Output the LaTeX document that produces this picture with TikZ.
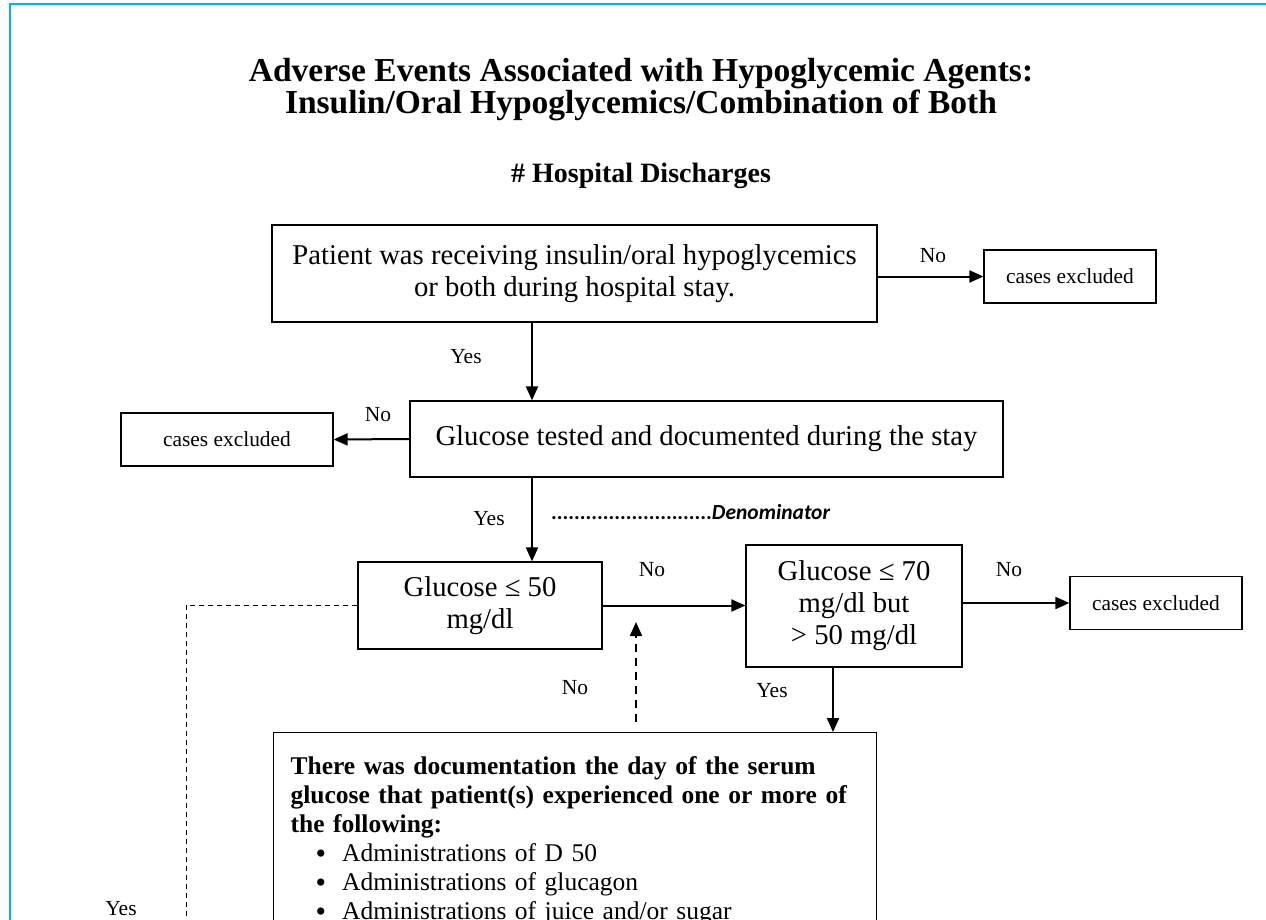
\documentclass[tikz,border=0pt]{standalone}
\usepackage{fontspec}
\setmainfont{Liberation Serif}
\newfontfamily\calibri{Carlito}
\usetikzlibrary{arrows.meta}
\definecolor{frameblue}{RGB}{0,176,240}
\newcommand{\itembul}{\hspace*{25pt}\raisebox{-1.5pt}[0pt][0pt]{\fontsize{30}{29}\selectfont\textbullet}\hspace{16pt}}

\begin{document}
\begin{tikzpicture}[x=1pt,y=-1pt]
	\tikzstyle{box}=[draw=black,line width=1.2pt,inner sep=0pt,align=center,font=\fontsize{28.7}{32}\selectfont]
	\tikzstyle{excl}=[draw=black,line width=1.2pt,minimum width=172pt,minimum height=53pt,inner sep=0pt,font=\fontsize{21.4}{24}\selectfont]
	\tikzstyle{lbl}=[inner sep=0pt,font=\fontsize{21.5}{24}\selectfont]
	\tikzstyle{arr}=[line width=2pt,-{Triangle[length=14pt,width=12pt]}]
	\useasboundingbox (0,0) rectangle (1266,920);
	\clip (0,0) rectangle (1266,920);
	\draw[frameblue,line width=2.5pt] (10,930) -- (10,4) -- (1275,4);
	\node[align=center,font=\bfseries\fontsize{33.5}{32}\selectfont] (t) at (641,90) {Adverse Events Associated with Hypoglycemic Agents:\\Insulin/Oral Hypoglycemics/Combination of Both};
	\node[font=\bfseries\fontsize{28}{32}\selectfont] (s) at (641,176) {\# Hospital Discharges};
	\node[box,minimum width=605pt,minimum height=97pt] (1) at (574.5,273.5) {Patient was receiving insulin/oral hypoglycemics\\or both during hospital stay.};
	\node[excl] (2) at (1070,276.5) {cases excluded};
	\node[box,minimum width=593pt,minimum height=76pt] (3) at (706.5,439) {Glucose tested and documented during the stay};
	\node[excl,minimum width=212pt] (4) at (227,439.5) {cases excluded};
	\node[box,minimum width=244pt,minimum height=87pt] (5) at (480,605.5) {Glucose ≤ 50\\mg/dl};
	\node[box,minimum width=216pt,minimum height=122pt] (6) at (854,606) {Glucose ≤ 70\\mg/dl but\\> 50 mg/dl};
	\node[excl] (7) at (1156,603) {cases excluded};
	\node[draw=black,line width=1.2pt,anchor=north west,text width=569pt,inner xsep=17pt,inner ysep=24pt,align=left,font=\fontsize{25.5}{29}\selectfont] (8) at (273,732) {{\bfseries There was documentation the day of the serum\\glucose that patient(s) experienced one or more of\\the following:}\\
		\itembul Administrations of D 50\\
		\itembul Administrations of glucagon\\
		\itembul Administrations of juice and/or sugar\rule[-80pt]{0pt}{0pt}};
	\node[anchor=west,inner sep=0pt,font=\calibri\bfseries\fontsize{21.5}{24}\selectfont] (den) at (551,512) {............................\textit{Denominator}};
	\coordinate (a) at (532,0);
	\coordinate (b) at (833,0);
	\coordinate (c) at (636,622);
	\coordinate (d) at (186,940);
	\draw[arr] (2.west -| 1.east) -- (2.west);
	\draw[arr] (1.south -| a) -- (3.north -| a);
	\draw[arr] (3.west) -- (4.east);
	\draw[arr] (3.south -| a) -- (5.north -| a);
	\draw[arr] (5.east) -- (5.east -| 6.west);
	\draw[arr] (7.west -| 6.east) -- (7.west);
	\draw[arr] (6.south -| b) -- (8.north -| b);
	\draw[arr,dash pattern=on 8pt off 6pt,shorten <=10pt] (8.north -| c) -- (c);
	\draw[line width=1pt,dash pattern=on 5pt off 4pt] (5.west) -| (d);
	\node[lbl] (n1) at (933,256) {No};
	\node[lbl] (y1) at (466,357) {Yes};
	\node[lbl] (n2) at (378,415) {No};
	\node[lbl] (y2) at (489,519) {Yes};
	\node[lbl] (n3) at (652,570) {No};
	\node[lbl] (n4) at (1009,570) {No};
	\node[lbl] (y3) at (772,691) {Yes};
	\node[lbl] (n5) at (575,688) {No};
	\node[lbl] (y4) at (121,909) {Yes};
\end{tikzpicture}
\end{document}
